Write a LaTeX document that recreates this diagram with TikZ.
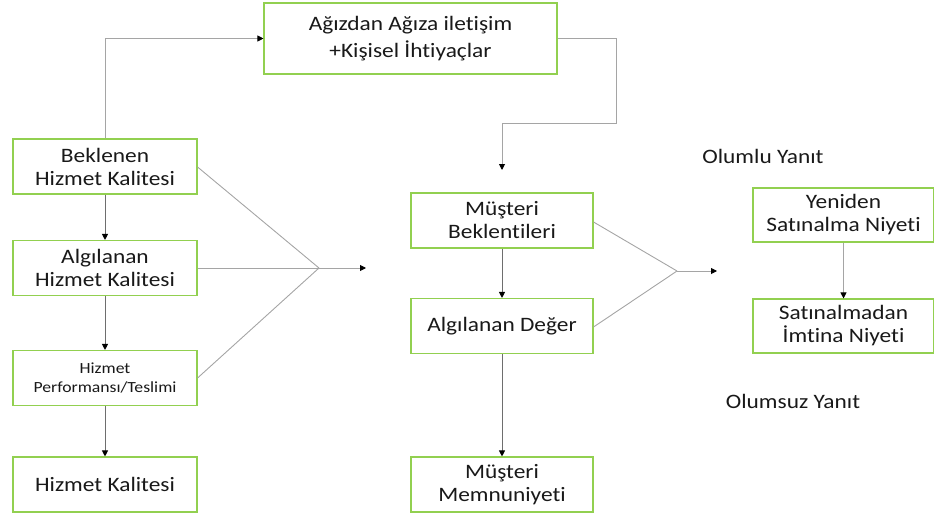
\documentclass[tikz,border=0pt]{standalone}
\usepackage{fontspec}
\setmainfont{Carlito}[FakeStretch=1.14, Ligatures=NoCommon]
\usetikzlibrary{arrows.meta}
\definecolor{boxgreen}{RGB}{146,208,80}
\definecolor{linegray}{RGB}{165,165,165}
\definecolor{darkline}{RGB}{110,110,110}
\begin{document}
\begin{tikzpicture}[x=1pt,y=-1pt,
  box/.style={draw=boxgreen, line width=1.1pt, fill=white, inner sep=0pt,
    align=center, font=\fontsize{20.5}{23}\selectfont, text=black!90},
  wide/.style={minimum width=184pt, minimum height=55pt},
  conn/.style={draw=linegray, line width=0.9pt},
  vconn/.style={draw=darkline, line width=0.9pt},
  tip/.style={-{Triangle[length=6pt,width=6pt,fill=black,color=black]}},
  lbl/.style={font=\fontsize{20.5}{23}\selectfont, text=black!90, inner sep=0pt}
]
\useasboundingbox (0,0) rectangle (934,516);

% boxes
\node[box, minimum width=293pt, minimum height=71pt,
  font=\fontsize{20.5}{26.5}\selectfont] (ag) at (410.5,38.5)
  {Ağızdan Ağıza iletişim\\+Kişisel İhtiyaçlar};
\node[box, wide] (bk) at (105,166.5) {Beklenen\\Hizmet Kalitesi};
\node[box, wide] (alg) at (105,268) {Algılanan\\Hizmet Kalitesi};
\node[box, wide, font=\fontsize{15.5}{19}\selectfont] (perf) at (105,378)
  {Hizmet\\Performansı/Teslimi};
\node[box, wide] (hk) at (105,484.5) {Hizmet Kalitesi};

\node[box, minimum width=182pt, minimum height=55pt] (mb) at (502,220.5)
  {Müşteri\\Beklentileri};
\node[box, minimum width=182pt, minimum height=55pt] (ad) at (502,326)
  {Algılanan Değer};
\node[box, minimum width=182pt, minimum height=55pt] (mm) at (502,484.5)
  {Müşteri\\Memnuniyeti};

\node[box, minimum width=181pt, minimum height=54pt] (yn) at (843.5,215)
  {Yeniden\\Satınalma Niyeti};
\node[box, minimum width=181pt, minimum height=54pt] (si) at (843.5,326)
  {Satınalmadan\\İmtina Niyeti};

\node[lbl] (olumlu) at (763,156) {Olumlu Yanıt};
\node[lbl] (olumsuz) at (793,401) {Olumsuz Yanıt};

% junction points
\coordinate (hub1) at (319,268);
\coordinate (end1) at (366,268);
\coordinate (hub2) at (677,271);
\coordinate (end2) at (717,271);
\coordinate (mbtop) at (502,170);

% feedback loop through the top box
\draw[conn, tip] (bk.north) |- (ag.west);
\draw[conn, tip] (ag.east) -- (616,38.5) -- (616,123) -- (502,123) -- (mbtop);

% left column
\draw[vconn, tip] (bk) -- (alg);
\draw[vconn, tip] (alg) -- (perf);
\draw[vconn, tip] (perf) -- (hk);

% first fan
\draw[conn] (bk.east |- 0,167) -- (hub1);
\draw[conn] (alg.east) -- (hub1);
\draw[conn] (perf.east) -- (hub1);
\draw[conn, tip] (hub1) -- (end1);

% middle column
\draw[vconn, tip] (mb) -- (ad);
\draw[vconn, tip] (ad) -- (mm);

% second fan
\draw[conn] (mb.east |- 0,222) -- (hub2);
\draw[conn] (ad.east |- 0,327) -- (hub2);
\draw[conn, tip] (hub2) -- (end2);

% right column
\draw[conn, tip] (yn) -- (si);
\end{tikzpicture}
\end{document}
